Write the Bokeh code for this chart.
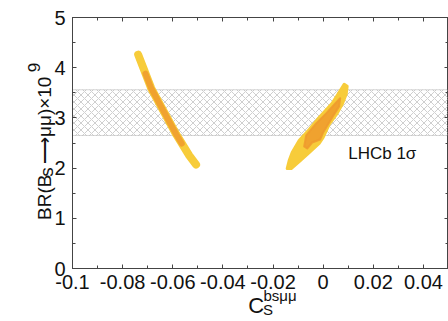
from bokeh.plotting import figure
from bokeh.models import (LinearAxis, FixedTicker, BoxAnnotation, Label, Range1d)
from bokeh.embed import file_html
from bokeh.resources import INLINE

# ---- data ----
x_ticks = [-0.1, -0.08, -0.06, -0.04, -0.02, 0.0, 0.02, 0.04]
x_tick_labels = ["-0.1", "-0.08", "-0.06", "-0.04", "-0.02", "0", "0.02", "0.04"]
x_minor = [-0.09, -0.07, -0.05, -0.03, -0.01, 0.01, 0.03, 0.05]
y_ticks = [0, 1, 2, 3, 4, 5]
y_minor = [0.5, 1.5, 2.5, 3.5, 4.5]

# left branch (yellow) and its orange core
left_x = [-0.0738, -0.0686, -0.0634, -0.0586, -0.0534, -0.0507]
left_y = [4.26, 3.59, 3.11, 2.67, 2.25, 2.07]
left_core_x = [-0.0709, -0.0686, -0.0634, -0.0586, -0.0564]
left_core_y = [3.88, 3.59, 3.11, 2.67, 2.49]

# right branch (yellow region) and its orange core
right_x = [-0.01436, -0.01356, -0.01237, -0.00957, -0.00558, -0.0016, 0.00359,
           0.00638, 0.00838, 0.00957, 0.00917, 0.00758, 0.00558, 0.00239, 0.0,
           -0.0016, -0.00558, -0.00957, -0.01276]
right_y = [1.99, 2.15, 2.31, 2.55, 2.77, 3.01, 3.29, 3.51, 3.67, 3.63, 3.47,
           3.27, 3.09, 2.87, 2.61, 2.49, 2.31, 2.13, 1.99]
right_core_x = [-0.00758, -0.00678, -0.00279, 0.0012, 0.00519, 0.00678, 0.00638,
                0.00359, 0.0, -0.0012, -0.00439, -0.00638]
right_core_y = [2.43, 2.65, 2.89, 3.09, 3.31, 3.39, 3.23, 3.01, 2.71, 2.57,
                2.51, 2.39]

# LHCb 1 sigma band
lhcb_low, lhcb_high = 2.65, 3.56
band_label = "LHCb 1σ"

# x-axis title pieces: C, subscript S, superscript bsμμ
xlab_main, xlab_sub, xlab_sup = "C", "S", "bsμμ"
# y-axis title pieces: BR(B_s⟶μμ)×10^9
ylab_a, ylab_sub, ylab_b, ylab_sup = "BR(B", "s", "⟶μμ)×10", "9"

YELLOW = "#F7CC3A"
ORANGE = "#EE9A2E"
FONT = "Liberation Sans"
AX = "#444444"
TXT = "#111111"
EM, THIN, NB = "\u2003", "\u2009", "\u00a0"

p = figure(width=448, height=321, output_backend="svg", toolbar_location=None,
           x_range=Range1d(-0.1, 0.05), y_range=Range1d(0, 5),
           min_border_left=72, min_border_right=0, min_border_top=17,
           min_border_bottom=53, x_axis_location=None, y_axis_location=None)
p.grid.visible = False
p.outline_line_color = AX
p.outline_line_width = 1
p.background_fill_color = "white"
p.border_fill_color = "white"

def style_axis(ax):
    ax.axis_line_color = AX
    ax.major_tick_line_color = AX
    ax.minor_tick_line_color = AX
    ax.major_tick_in = 4
    ax.major_tick_out = 0
    ax.minor_tick_in = 3
    ax.minor_tick_out = 0
    ax.major_label_text_font = FONT
    ax.major_label_text_font_size = "20px"
    ax.major_label_text_color = TXT

def label_axis(text, size, standoff, font=FONT):
    ax = LinearAxis(ticker=FixedTicker(ticks=[]), axis_line_color=None,
                    major_tick_line_color=None, minor_tick_line_color=None,
                    major_tick_in=0, major_tick_out=0, minor_tick_in=0,
                    minor_tick_out=0, major_label_standoff=0)
    ax.axis_label = text
    ax.axis_label_text_font = font
    ax.axis_label_text_font_size = size
    ax.axis_label_text_font_style = "normal"
    ax.axis_label_text_color = TXT
    ax.axis_label_standoff = standoff
    return ax

# ---- bottom axis + title rows (S, then C and bsμμ pulled back up) ----
xb = LinearAxis(ticker=FixedTicker(ticks=x_ticks, minor_ticks=x_minor))
xb.major_label_overrides = {t: l for t, l in zip(x_ticks, x_tick_labels)}
style_axis(xb)
xb.major_label_standoff = 6
p.add_layout(xb, "below")
p.add_layout(label_axis(EM + xlab_sub, "15px", 9), "below")
p.add_layout(label_axis(xlab_main + THIN + THIN, "22px", -28), "below")
p.add_layout(label_axis(EM + EM + THIN * 3 + xlab_sup, "15px", -34), "below")

# ---- top axis (ticks only) ----
xt = LinearAxis(ticker=FixedTicker(ticks=x_ticks, minor_ticks=x_minor))
style_axis(xt)
xt.major_label_overrides = {t: "" for t in x_ticks}
xt.major_label_standoff = 0
p.add_layout(xt, "above")

# ---- left axis + title rows ----
yl = LinearAxis(ticker=FixedTicker(ticks=y_ticks, minor_ticks=y_minor))
style_axis(yl)
yl.major_label_standoff = 7
p.add_layout(yl, "left")
p.add_layout(label_axis(ylab_sub + NB * 11, "19px", -5), "left")
p.add_layout(label_axis(ylab_a + NB * 2 + ylab_b + NB * 2, "19px", -22), "left")
p.add_layout(label_axis(NB * 32 + ylab_sup, "17px", -13), "left")

# ---- right axis (ticks only) ----
yr = LinearAxis(ticker=FixedTicker(ticks=y_ticks, minor_ticks=y_minor))
style_axis(yr)
yr.major_label_overrides = {t: "" for t in y_ticks}
yr.major_label_standoff = 0
p.add_layout(yr, "right")

band = BoxAnnotation(bottom=lhcb_low, top=lhcb_high, fill_alpha=0,
                     hatch_pattern="diagonal_cross", hatch_color="#9a9a9a",
                     hatch_alpha=0.8, hatch_scale=7, hatch_weight=0.6,
                     line_color="#777777", line_width=1, level="underlay")
p.add_layout(band)

p.line(left_x, left_y, line_color=YELLOW, line_width=8, line_cap="round",
       line_join="round")
p.line(left_core_x, left_core_y, line_color=ORANGE, line_width=6,
       line_alpha=0.85, line_cap="round", line_join="round")

p.patch(right_x, right_y, fill_color=YELLOW, line_color=YELLOW, line_width=3,
        line_join="round")
p.patch(right_core_x, right_core_y, fill_color=ORANGE, fill_alpha=0.85,
        line_color=ORANGE, line_alpha=0.85, line_width=2, line_join="round")

p.add_layout(Label(x=0.01, y=2.29, text=band_label, text_font=FONT,
                   text_font_size="17px", text_color=TXT,
                   text_baseline="alphabetic"))

open("out.html", "w").write(file_html(p, INLINE))
